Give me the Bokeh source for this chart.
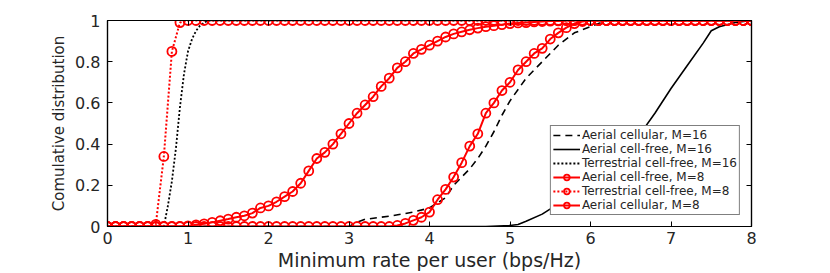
from bokeh.plotting import figure
from bokeh.models import (Range1d, FixedTicker, LinearAxis, CustomJSTickFormatter,
                          ColumnDataSource, CustomLabelingPolicy)
from bokeh.embed import file_html
from bokeh.resources import INLINE

# ---- data ----
x_ticks = [0, 1, 2, 3, 4, 5, 6, 7, 8]
y_ticks = [0, 0.2, 0.4, 0.6, 0.8, 1]

# sampling grid of the marker curves (step 0.1 from 0 to 8)
x_grid = [round(0.1 * i, 1) for i in range(81)]

# Aerial cellular, M=16 (black dashed)
x_ac16 = [0, 3.0, 3.1, 3.2, 3.5, 3.8, 4.0, 4.2, 4.3, 4.4, 4.5, 4.6, 4.7, 4.8, 4.9, 5.0, 5.2, 5.4, 5.6, 5.8, 6.0, 6.1, 6.2, 8.0]
y_ac16 = [0, 0, 0.02, 0.035, 0.05, 0.07, 0.09, 0.14, 0.2, 0.24, 0.28, 0.33, 0.39, 0.46, 0.54, 0.61, 0.72, 0.80, 0.88, 0.94, 0.97, 0.985, 1, 1]

# Aerial cell-free, M=16 (black solid)
x_acf16 = [0, 4.7, 5.0, 5.1, 5.2, 5.4, 5.6, 5.8, 6.0, 6.2, 6.4, 6.6, 6.8, 7.0, 7.2, 7.4, 7.5, 7.6, 7.8, 8.0]
y_acf16 = [0, 0, 0.005, 0.01, 0.025, 0.06, 0.11, 0.17, 0.23, 0.3, 0.37, 0.44, 0.55, 0.67, 0.78, 0.89, 0.95, 0.97, 0.99, 1]

# Terrestrial cell-free, M=16 (black dotted)
x_tcf16 = [0, 0.7, 0.75, 0.8, 0.85, 0.9, 0.95, 1.0, 1.05, 1.1, 1.15, 1.2, 1.25, 8]
y_tcf16 = [0, 0, 0.1, 0.22, 0.38, 0.58, 0.74, 0.85, 0.91, 0.95, 0.975, 0.99, 1, 1]

# Aerial cell-free, M=8 (red solid, circles)
y_acf8 = [0, 0, 0, 0, 0, 0, 0, 0, 0, 0,
          0, 0, 0, 0, 0, 0, 0, 0, 0, 0,
          0, 0, 0, 0, 0, 0, 0, 0, 0, 0,
          0, 0, 0, 0, 0, 0,
          0.005, 0.015, 0.03, 0.045, 0.07, 0.13, 0.18, 0.24, 0.31, 0.39,
          0.45, 0.55, 0.60, 0.66, 0.70, 0.76, 0.80, 0.84, 0.865, 0.91,
          0.94, 0.965, 0.985, 0.995,
          1, 1, 1, 1, 1, 1, 1, 1, 1, 1,
          1, 1, 1, 1, 1, 1, 1, 1, 1, 1, 1]

# Terrestrial cell-free, M=8 (red dotted, circles)
y_tcf8 = [0, 0, 0, 0, 0, 0, 0.01, 0.34, 0.85, 0.99,
          1, 1, 1, 1, 1, 1, 1, 1, 1, 1,
          1, 1, 1, 1, 1, 1, 1, 1, 1, 1,
          1, 1, 1, 1, 1, 1, 1, 1, 1, 1,
          1, 1, 1, 1, 1, 1, 1, 1, 1, 1,
          1, 1, 1, 1, 1, 1, 1, 1, 1, 1,
          1, 1, 1, 1, 1, 1, 1, 1, 1, 1,
          1, 1, 1, 1, 1, 1, 1, 1, 1, 1, 1]

# Aerial cellular, M=8 (red solid, circles)
y_ac8 = [0, 0, 0, 0, 0, 0, 0, 0, 0, 0,
         0.003, 0.008, 0.013, 0.02, 0.028, 0.036, 0.045, 0.052, 0.065, 0.09,
         0.10, 0.12, 0.145, 0.17, 0.21, 0.27, 0.33, 0.36, 0.40, 0.45,
         0.50, 0.55, 0.59, 0.63, 0.68, 0.72, 0.77, 0.80, 0.84, 0.86,
         0.88, 0.90, 0.92, 0.935, 0.945, 0.955, 0.963, 0.97, 0.975, 0.98,
         0.985, 0.988, 0.99, 0.993, 0.995, 0.997, 0.998,
         1, 1, 1, 1, 1, 1, 1, 1, 1, 1,
         1, 1, 1, 1, 1, 1, 1, 1, 1, 1, 1, 1, 1, 1]

FONT = "DejaVu Sans"
TXT = "#262626"

p = figure(width=830, height=273, output_backend="svg", toolbar_location=None,
           x_range=Range1d(0, 8), y_range=Range1d(0, 1),
           min_border_left=107, min_border_right=79, min_border_top=20, min_border_bottom=44)
p.xgrid.visible = False
p.ygrid.visible = False
p.outline_line_color = "black"
p.outline_line_width = 1.2
p.outline_line_alpha = 1.0

p.xaxis.ticker = FixedTicker(ticks=x_ticks)
p.yaxis.ticker = FixedTicker(ticks=y_ticks)
p.yaxis.formatter = CustomJSTickFormatter(code="return String(Math.round(tick*10)/10)")
for ax in (p.xaxis[0], p.yaxis[0]):
    ax.major_tick_in = 5
    ax.major_tick_out = 0
    ax.minor_tick_in = 0
    ax.minor_tick_out = 0
    ax.axis_line_color = "black"
    ax.axis_line_width = 1.2
    ax.major_tick_line_color = "black"
    ax.major_label_text_font = FONT
    ax.major_label_text_font_size = "16px"
    ax.major_label_text_color = TXT
    ax.axis_label_text_font = FONT
    ax.axis_label_text_font_style = "normal"
    ax.axis_label_text_color = TXT
p.xaxis.major_label_standoff = 5
p.yaxis.major_label_standoff = 7
p.xaxis.axis_label = "Minimum rate per user (bps/Hz)"
p.xaxis.axis_label_text_font_size = "19px"
p.xaxis.axis_label_standoff = 2
p.yaxis.axis_label = "Comulative distribution"
p.yaxis.axis_label_text_font_size = "15px"
p.yaxis.axis_label_standoff = 4

hide_all = CustomLabelingPolicy(code="for (const i of [...indices]) { indices.unset(i) } return indices")
for loc, tk in (("above", x_ticks), ("right", y_ticks)):
    a = LinearAxis(ticker=FixedTicker(ticks=tk), major_label_policy=hide_all,
                   major_tick_in=5, major_tick_out=0, minor_tick_in=0, minor_tick_out=0,
                   major_label_standoff=0, axis_line_color="black", axis_line_width=1.2)
    p.add_layout(a, loc)

# black curves
p.line(x_ac16, y_ac16, line_color="black", line_width=1.6, line_dash="7 5",
       legend_label="Aerial cellular, M=16")
p.line(x_acf16, y_acf16, line_color="black", line_width=1.6,
       legend_label="Aerial cell-free, M=16")
p.line(x_tcf16, y_tcf16, line_color="black", line_width=1.8, line_dash="2 2",
       legend_label="Terrestrial cell-free, M=16")

# red curves with circle markers
for ys, dash, lab in ((y_acf8, "solid", "Aerial cell-free, M=8"),
                      (y_tcf8, "2 2", "Terrestrial cell-free, M=8"),
                      (y_ac8, "solid", "Aerial cellular, M=8")):
    src = ColumnDataSource(dict(x=x_grid, y=ys))
    p.line("x", "y", source=src, line_color="red", line_width=2, line_dash=dash, legend_label=lab)
    p.scatter("x", "y", source=src, marker="circle", size=9, fill_color=None,
              line_color="red", line_width=1.8, legend_label=lab)

lg = p.legend[0]
lg.location = "bottom_right"
lg.margin = 11
lg.padding = 2
lg.spacing = 0
lg.label_height = 14
lg.glyph_height = 14
lg.glyph_width = 27
lg.label_standoff = 2
lg.label_text_font = FONT
lg.label_text_font_size = "12px"
lg.label_text_line_height = 1.0
lg.label_text_color = TXT
lg.border_line_color = "black"
lg.border_line_width = 1
lg.background_fill_alpha = 1.0
lg.background_fill_color = "white"

open("out.html", "w").write(file_html(p, INLINE))
